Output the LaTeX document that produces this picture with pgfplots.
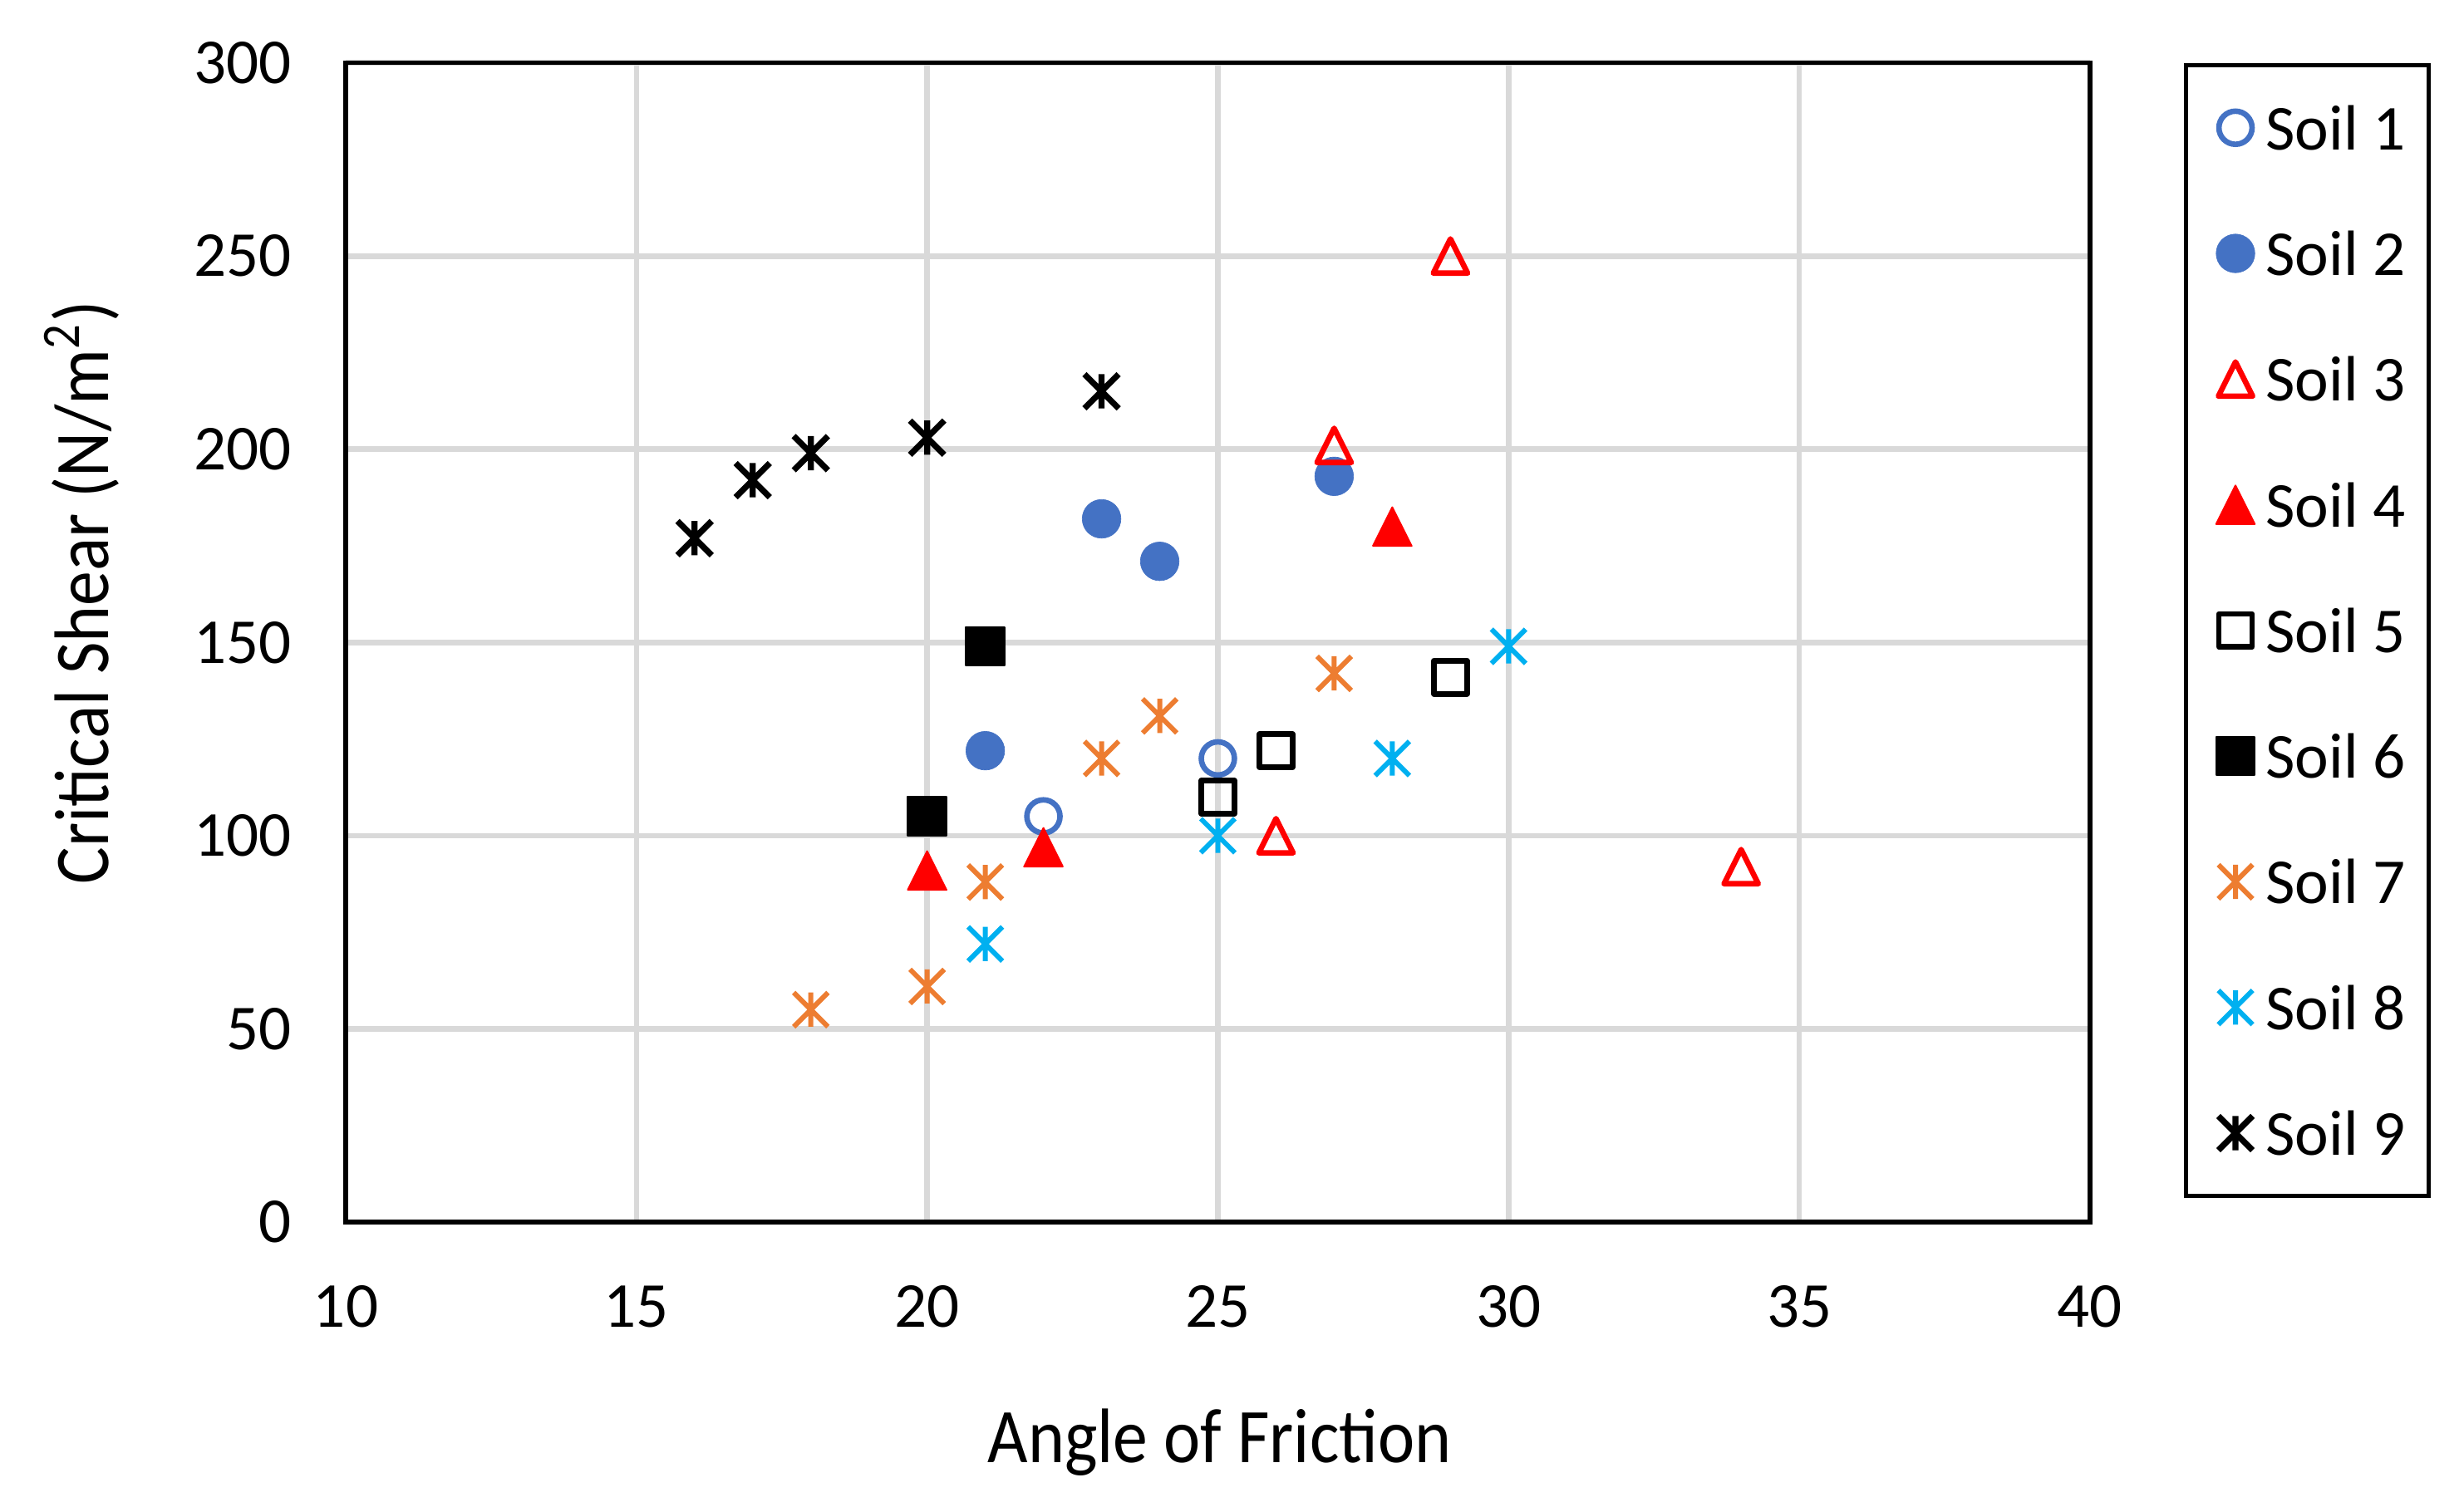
\documentclass[border=0pt]{standalone}
\usepackage{fontspec}
\setmainfont{Carlito}
\usepackage{pgfplots}
\pgfplotsset{compat=1.18}
\definecolor{sblue}{HTML}{4472C4}
\definecolor{sred}{HTML}{FF0000}
\definecolor{sorange}{HTML}{ED7D31}
\definecolor{scyan}{HTML}{00B0F0}
\definecolor{gridgray}{HTML}{D9D9D9}
\pgfdeclareplotmark{xstar}{%
  \pgfpathmoveto{\pgfqpoint{-\pgfplotmarksize}{-\pgfplotmarksize}}%
  \pgfpathlineto{\pgfqpoint{\pgfplotmarksize}{\pgfplotmarksize}}%
  \pgfpathmoveto{\pgfqpoint{-\pgfplotmarksize}{\pgfplotmarksize}}%
  \pgfpathlineto{\pgfqpoint{\pgfplotmarksize}{-\pgfplotmarksize}}%
  \pgfpathmoveto{\pgfqpoint{0pt}{-\pgfplotmarksize}}%
  \pgfpathlineto{\pgfqpoint{0pt}{\pgfplotmarksize}}%
  \pgfusepathqstroke}
\pgfdeclareplotmark{etri}{%
  \pgfpathmoveto{\pgfqpoint{-\pgfplotmarksize}{-\pgfplotmarksize}}%
  \pgfpathlineto{\pgfqpoint{\pgfplotmarksize}{-\pgfplotmarksize}}%
  \pgfpathlineto{\pgfqpoint{0pt}{\pgfplotmarksize}}%
  \pgfpathclose\pgfusepathqstroke}
\pgfdeclareplotmark{etri*}{%
  \pgfpathmoveto{\pgfqpoint{-\pgfplotmarksize}{-\pgfplotmarksize}}%
  \pgfpathlineto{\pgfqpoint{\pgfplotmarksize}{-\pgfplotmarksize}}%
  \pgfpathlineto{\pgfqpoint{0pt}{\pgfplotmarksize}}%
  \pgfpathclose\pgfusepathqfillstroke}
\begin{document}
\begin{tikzpicture}
\useasboundingbox (-2.20cm,-1.81cm) rectangle (13.48cm,7.78cm);
\begin{axis}[
  at={(0,0)}, anchor=south west,
  scale only axis, width=11.1cm, height=7.38cm,
  xmin=10, xmax=40, ymin=0, ymax=300,
  xtick={10,15,...,40}, ytick={0,50,...,300},
  grid=major, major grid style={color=gridgray, line width=1pt},
  axis line style={line width=0.8pt},
  major tick length=0pt,
  tick label style={font=\fontsize{11.6}{13}\selectfont},
  /pgf/number format/assume math mode=true,
  xticklabel style={yshift=-8pt},
  yticklabel style={xshift=-6.3pt},
  xlabel={\scalebox{0.9}[1]{Angle of Friction}},
  ylabel={\scalebox{0.9}[1]{Critical Shear (N/m\textsuperscript{2})}},
  every axis x label/.style={at={(axis description cs:0.501,-0.19)}, anchor=center, font=\fontsize{14}{16}\selectfont},
  every axis y label/.style={at={(axis description cs:-0.1514,0.543)}, anchor=center, rotate=90, font=\fontsize{14}{16}\selectfont},
  legend cell align=left,
  legend image code/.code={\path (0cm,0cm) (0.3cm,0cm); \draw[#1] plot coordinates {(0.15cm,0cm)};},
  legend style={at={(1.054,1)}, anchor=north west, draw=black, line width=0.75pt,
    font=\fontsize{11.6}{13}\selectfont,
    inner xsep=1.5mm, inner ysep=2.6mm, row sep=5.2mm, column sep=0.3mm,
    nodes={inner sep=0pt, text height=2.8mm, text depth=0mm}},
]
\addplot[only marks, mark=o, mark size=3.0pt, mark options={draw=sblue, line width=1pt}] coordinates {(22,105) (25,120)};
\addlegendentry{Soil 1}
\addplot[only marks, mark=*, mark size=3.5pt, mark options={draw=sblue, fill=sblue, line width=0.1pt}] coordinates {(21,122) (23,182) (24,171) (27,193)};
\addlegendentry{Soil 2}
\addplot[only marks, mark=etri, mark size=3.1pt, mark options={draw=sred, line width=1pt, line join=round}] coordinates {(29,250) (27,201) (26,100) (34,92)};
\addlegendentry{Soil 3}
\addplot[only marks, mark=etri*, mark size=3.5pt, mark options={draw=sred, fill=sred, line width=0.3pt, line join=round}] coordinates {(20,91) (22,97) (28,180)};
\addlegendentry{Soil 4}
\addplot[only marks, mark=square, mark size=3.0pt, mark options={draw=black, line width=1pt, line join=round}] coordinates {(25,110) (26,122) (29,141)};
\addlegendentry{Soil 5}
\addplot[only marks, mark=square*, mark size=3.5pt, mark options={draw=black, fill=black, line width=0.3pt, line join=round}] coordinates {(20,105) (21,149)};
\addlegendentry{Soil 6}
\addplot[only marks, mark=xstar, mark size=3.1pt, mark options={draw=sorange, line width=0.9pt}] coordinates {(18,55) (20,61) (21,88) (23,120) (24,131) (27,142)};
\addlegendentry{Soil 7}
\addplot[only marks, mark=xstar, mark size=3.1pt, mark options={draw=scyan, line width=0.9pt}] coordinates {(21,72) (25,100) (28,120) (30,149)};
\addlegendentry{Soil 8}
\addplot[only marks, mark=xstar, mark size=3.1pt, mark options={draw=black, line width=1.1pt}] coordinates {(16,177) (17,192) (18,199) (20,203) (23,215)};
\addlegendentry{Soil 9}
\end{axis}
\end{tikzpicture}
\end{document}
